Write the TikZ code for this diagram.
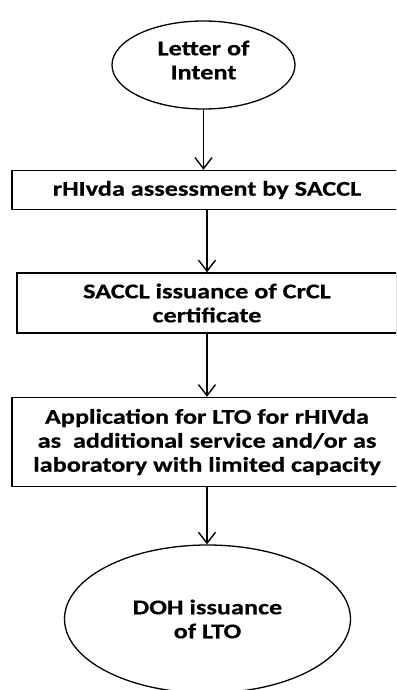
\documentclass[tikz,border=0pt]{standalone}
\usepackage{fontspec}
\setmainfont{Carlito}[FakeStretch=1.25,FakeBold=0.5]
\usetikzlibrary{shapes.geometric,arrows.meta}
\begin{document}
\begin{tikzpicture}[x=1pt,y=-1pt,
  every node/.style={font=\bfseries\fontsize{21}{24}\selectfont, align=center, inner sep=0pt},
  oval/.style={ellipse, draw, line width=1.3pt},
  stepbox/.style={rectangle, draw, line width=1.5pt},
  arr/.style={line width=1.4pt, -{Straight Barb[length=11pt,width=17pt,line width=1.4pt]}}]
  \clip (0,0) rectangle (396,690);
  % process flow
  \node[oval, minimum width=183pt, minimum height=88pt] (loi) at (203.5,65)
    {Letter of\\Intent\rule[-10pt]{0pt}{0pt}};
  \node[stepbox, minimum width=390pt, minimum height=39pt] (b1) at (207,190) {rHIvda assessment by SACCL};
  \node[stepbox, minimum width=380pt, minimum height=60pt] (b2) at (207,303) {SACCL issuance of CrCL\\certificate};
  \node[stepbox, minimum width=390pt, minimum height=89pt] (b3) at (207,442)
    {Application for LTO for rHIVda\\as\ \ additional service and/or as\\laboratory with limited capacity};
  \node[oval, minimum width=286pt, minimum height=148pt] (doh) at (207.5,619) {DOH issuance\\of LTO};
  % connectors
  \draw[arr] (loi.south) -- (loi.south |- b1.north);
  \draw[arr] (b1.south) -- (b2.north);
  \draw[arr] (b2.south) -- (b3.north);
  \draw[arr] (b3.south) -- (b3.south |- doh.north);
\end{tikzpicture}
\end{document}
